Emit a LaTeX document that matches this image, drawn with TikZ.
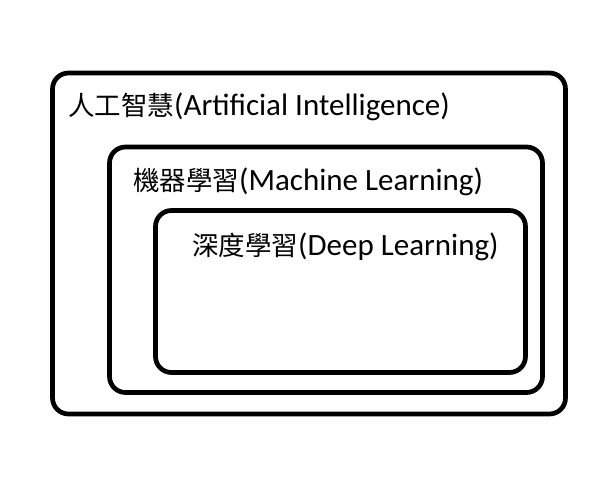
\documentclass[tikz,border=0pt]{standalone}
\usepackage{fontspec}
\setmainfont{Carlito}
\newfontfamily\cjk{Noto Sans CJK TC}
\begin{document}
\begin{tikzpicture}[x=1pt,y=-1pt,
  box/.style={draw=black,line width=4.7pt,rounded corners=16pt},
  lbl/.style={anchor=base west,inner sep=0pt,font=\fontsize{31}{35}\selectfont}]
\newcommand\zh[1]{{\cjk\fontsize{26.5}{30}\selectfont #1}}
\useasboundingbox (0,0) rectangle (616,481);
\draw[box] (52.5,73) rectangle (565.5,414);
\draw[box] (109.5,147) rectangle (542.5,392.5);
\draw[box] (155.5,210.5) rectangle (525.5,372.5);
\node[lbl] (ai) at (68,116) {\zh{人工智慧}(Artificial Intelligence)};
\node[lbl] (ml) at (133,191) {\zh{機器學習}(Machine Learning)};
\node[lbl] (dl) at (192,255) {\zh{深度學習}(Deep Learning)};
\end{tikzpicture}
\end{document}
